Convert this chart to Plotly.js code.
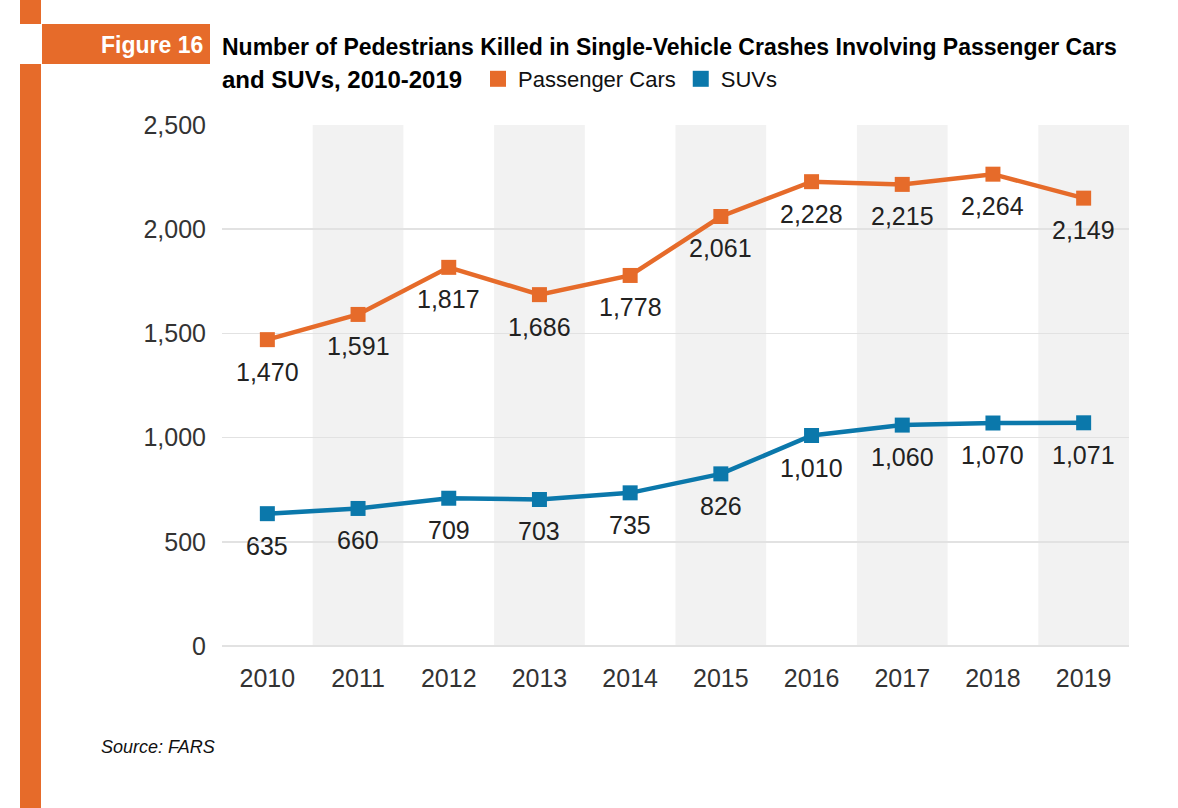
<!DOCTYPE html>
<html>
<head>
<meta charset="utf-8">
<script src="https://cdn.plot.ly/plotly-3.0.1.min.js"></script>
<style>html,body{margin:0;padding:0;background:#fff;}#chart{width:1178px;height:808px;}</style>
</head>
<body>
<div id="chart"></div>
<script>
// ---- data ----
const years = ["2010","2011","2012","2013","2014","2015","2016","2017","2018","2019"];
const passengerCars = [1470, 1591, 1817, 1686, 1778, 2061, 2228, 2215, 2264, 2149];
const suvs = [635, 660, 709, 703, 735, 826, 1010, 1060, 1070, 1071];
const seriesNames = ["Passenger Cars", "SUVs"];
const yTicks = [0, 500, 1000, 1500, 2000, 2500];

// ---- style ----
const ORANGE = "#E66B2A";
const BLUE = "#0B78AB";
const FONT = "Liberation Sans, Arial, Helvetica, sans-serif";
const W = 1178, H = 808;
const L = 222, R = 49, T = 125, B = 162;
const PW = W - L - R, PH = H - T - B;
const px = x => (x - L) / PW;           // pixel -> paper x
const py = y => (H - B - y) / PH;       // pixel -> paper y

function lineTrace(name, vals, color) {
  return {
    x: years, y: vals, name: name, type: "scatter", mode: "lines+markers",
    line: {color: color, width: 4.5},
    marker: {symbol: "square", size: 15, color: color},
    showlegend: false, hoverinfo: "x+y"
  };
}
function legendTrace(name, color) {
  return {
    x: [null], y: [null], name: name, type: "scatter", mode: "markers",
    marker: {symbol: "square", size: 16, color: color},
    showlegend: true
  };
}

const data = [
  lineTrace(seriesNames[0], passengerCars, ORANGE),
  lineTrace(seriesNames[1], suvs, BLUE),
  legendTrace(seriesNames[0], ORANGE),
  legendTrace(seriesNames[1], BLUE)
];

// alternating column bands
const shapes = [];
years.forEach((yr, i) => {
  if (i % 2 === 1) {
    shapes.push({type: "rect", xref: "x", yref: "y", x0: i - 0.5, x1: i + 0.5,
      y0: yTicks[0], y1: yTicks[yTicks.length - 1], fillcolor: "#f2f2f2",
      line: {width: 0}, layer: "below"});
  }
});
// orange side bar and figure box
shapes.push({type: "rect", xref: "paper", yref: "paper", x0: px(20), x1: px(41), y0: py(0), y1: py(24), fillcolor: ORANGE, line: {width: 0}});
shapes.push({type: "rect", xref: "paper", yref: "paper", x0: px(20), x1: px(41), y0: py(64), y1: py(808), fillcolor: ORANGE, line: {width: 0}});
shapes.push({type: "rect", xref: "paper", yref: "paper", x0: px(42), x1: px(210), y0: py(24), y1: py(64), fillcolor: ORANGE, line: {width: 0}});

// data labels (x given as category index)
const annotations = [];
function addLabels(vals) {
  vals.forEach((v, i) => {
    annotations.push({x: i, y: v, xref: "x", yref: "y",
      text: v.toLocaleString("en-US"), showarrow: false, yshift: -32,
      font: {family: FONT, size: 25, color: "#222"}});
  });
}
addLabels(passengerCars);
addLabels(suvs);

annotations.push({xref: "paper", yref: "paper", x: px(220), y: py(79), xanchor: "left", yanchor: "middle",
  text: "<b>and SUVs, 2010-2019</b>", showarrow: false, font: {family: FONT, size: 24, color: "#000"}});
annotations.push({xref: "paper", yref: "paper", x: px(205), y: py(45), xanchor: "right", yanchor: "middle",
  text: "<b>Figure 16</b>", showarrow: false, font: {family: FONT, size: 23, color: "#fff"}});
annotations.push({xref: "paper", yref: "paper", x: px(99), y: py(747), xanchor: "left", yanchor: "middle",
  text: "<i>Source: FARS</i>", showarrow: false, font: {family: FONT, size: 18, color: "#111"}});

const layout = {
  width: W, height: H,
  margin: {l: L, r: R, t: T, b: B, pad: 0},
  paper_bgcolor: "#fff", plot_bgcolor: "rgba(0,0,0,0)",
  font: {family: FONT, color: "#333"},
  title: {text: "<b>Number of Pedestrians Killed in Single-Vehicle Crashes Involving Passenger Cars</b>",
    xref: "container", yref: "container", x: 222 / W, xanchor: "left", y: 1 - 47 / H, yanchor: "middle",
    font: {family: FONT, size: 23, color: "#000"}},
  xaxis: {type: "category", categoryorder: "array", categoryarray: years, range: [-0.5, years.length - 0.5],
    showgrid: false, zeroline: false, showline: false, ticks: "",
    tickfont: {family: FONT, size: 25, color: "#333"}, ticklabelstandoff: 15, fixedrange: true},
  yaxis: {range: [yTicks[0], yTicks[yTicks.length - 1]], tickvals: yTicks, tickformat: ",d",
    showgrid: true, gridcolor: "#e2e2e2", gridwidth: 1.5, zeroline: true, zerolinecolor: "#e2e2e2", zerolinewidth: 1.5,
    showline: false, ticks: "", tickfont: {family: FONT, size: 25, color: "#333"}, ticklabelstandoff: 15, fixedrange: true},
  legend: {orientation: "h", x: px(478), xanchor: "left", y: py(79), yanchor: "middle",
    font: {family: FONT, size: 22, color: "#111"}, bgcolor: "rgba(0,0,0,0)", itemsizing: "trace", itemclick: false},
  shapes: shapes,
  annotations: annotations
};

Plotly.newPlot("chart", data, layout, {displayModeBar: false, staticPlot: true});
</script>
</body>
</html>
